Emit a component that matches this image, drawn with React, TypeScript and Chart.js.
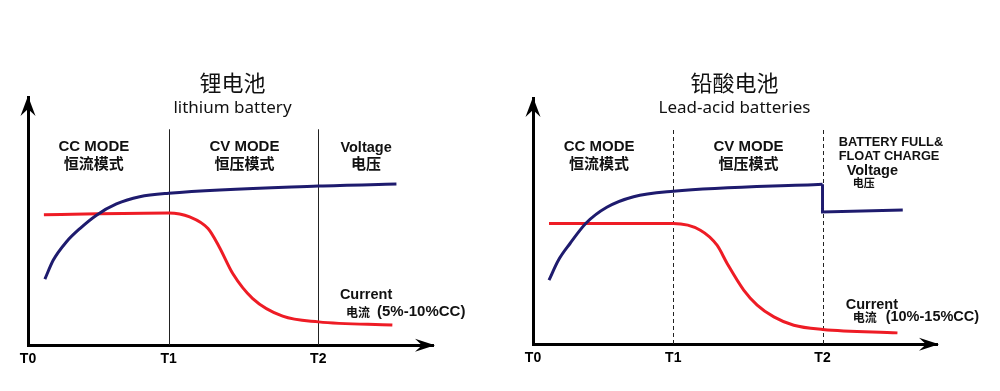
import React, { useEffect, useRef } from "react";
import { Chart, registerables } from "chart.js";

Chart.register(...registerables);

// ---- Data (time in units of T1, value in arbitrary units 0..10) ----
const tickValues = [0, 1, 2.064];
const tickLabels = ["T0", "T1", "T2"];

// Lithium battery
const liVoltageX = [0.12, 0.18, 0.274, 0.369, 0.487, 0.629, 0.794, 1.0, 2.064, 2.62];
const liVoltageY = [2.66, 3.43, 4.17, 4.7, 5.24, 5.69, 5.98, 6.12, 6.41, 6.49];
const liCurrentX = [0.113, 1.0, 1.15, 1.28, 1.36, 1.456, 1.598, 1.811, 2.066, 2.591];
const liCurrentY = [5.26, 5.33, 5.17, 4.7, 3.96, 2.89, 1.88, 1.17, 0.94, 0.81];

// Lead-acid battery
const laVoltageX = [0.114, 0.181, 0.264, 0.379, 0.526, 0.717, 1.0, 2.064];
const laVoltageY = [2.6, 3.41, 4.09, 4.92, 5.56, 5.99, 6.21, 6.5];
const laFloatX = [2.064, 2.064, 2.636];
const laFloatY = [6.5, 5.37, 5.45];
const laCurrentX = [0.114, 1.0, 1.193, 1.312, 1.384, 1.502, 1.598, 1.717, 1.859, 2.066, 2.598];
const laCurrentY = [4.9, 4.9, 4.63, 4.02, 3.28, 2.2, 1.59, 1.11, 0.77, 0.6, 0.46];

const NAVY = "#1e1b6e";
const RED = "#ee1c25";
const BOLD = "bold 15px 'Liberation Sans', Arial, sans-serif";
const CJK_BOLD = "bold 15px 'Noto Sans CJK SC', sans-serif";
const LAB = "bold 14.5px 'Liberation Sans', Arial, sans-serif";

type Note = { text: string; x: number; y: number; font: string; align?: CanvasTextAlign };

const toPts = (xs: number[], ys: number[]) => xs.map((x, i) => ({ x, y: ys[i] }));

const liNotes: Note[] = [
  { text: "锂电池", x: 1.454, y: 10.56, font: "22px 'Noto Sans CJK SC', sans-serif" },
  { text: "lithium battery", x: 1.454, y: 9.56, font: "17px 'Noto Sans', sans-serif" },
  { text: "CC MODE", x: 0.468, y: 7.98, font: BOLD },
  { text: "恒流模式", x: 0.468, y: 7.34, font: CJK_BOLD },
  { text: "CV MODE", x: 1.539, y: 7.98, font: BOLD },
  { text: "恒压模式", x: 1.539, y: 7.34, font: CJK_BOLD },
  { text: "Voltage", x: 2.404, y: 7.94, font: LAB },
  { text: "电压", x: 2.404, y: 7.34, font: CJK_BOLD },
  { text: "Current", x: 2.404, y: 2.02, font: LAB },
  { text: "电流", x: 2.262, y: 1.33, font: "bold 12px 'Noto Sans CJK SC', sans-serif", align: "left" },
  { text: "(5%-10%CC)", x: 2.482, y: 1.33, font: "bold 15px 'Liberation Sans', Arial, sans-serif", align: "left" },
];

const laNotes: Note[] = [
  { text: "铅酸电池", x: 1.436, y: 10.61, font: "22px 'Noto Sans CJK SC', sans-serif" },
  { text: "Lead-acid batteries", x: 1.436, y: 9.59, font: "17px 'Noto Sans', sans-serif" },
  { text: "CC MODE", x: 0.471, y: 8.01, font: BOLD },
  { text: "恒流模式", x: 0.471, y: 7.36, font: CJK_BOLD },
  { text: "CV MODE", x: 1.536, y: 8.01, font: BOLD },
  { text: "恒压模式", x: 1.536, y: 7.36, font: CJK_BOLD },
  { text: "BATTERY FULL&", x: 2.179, y: 8.21, font: "bold 12.8px 'Liberation Sans', Arial, sans-serif", align: "left" },
  { text: "FLOAT CHARGE", x: 2.179, y: 7.64, font: "bold 12.8px 'Liberation Sans', Arial, sans-serif", align: "left" },
  { text: "Voltage", x: 2.236, y: 7.03, font: LAB, align: "left" },
  { text: "电压", x: 2.279, y: 6.54, font: "bold 11px 'Noto Sans CJK SC', sans-serif", align: "left" },
  { text: "Current", x: 2.229, y: 1.59, font: LAB, align: "left" },
  { text: "电流", x: 2.279, y: 1.1, font: "bold 12px 'Noto Sans CJK SC', sans-serif", align: "left" },
  { text: "(10%-15%CC)", x: 2.514, y: 1.1, font: "bold 14.5px 'Liberation Sans', Arial, sans-serif", align: "left" },
];

type PanelProps = {
  left: number;
  padLeft: number;
  padRight: number;
  padTop: number;
  padBottom: number;
  datasets: any[];
  notes: Note[];
  dashed: boolean;
};

function Panel({ left, padLeft, padRight, padTop, padBottom, datasets, notes, dashed }: PanelProps) {
  const ref = useRef<HTMLCanvasElement>(null);
  useEffect(() => {
    if (!ref.current) return;
    const decor = {
      id: "decor",
      beforeDatasetsDraw(chart: any) {
        const { ctx, scales } = chart;
        const xs = scales.x, ys = scales.y;
        ctx.save();
        ctx.strokeStyle = "#222";
        ctx.lineWidth = 1;
        ctx.setLineDash(dashed ? [4, 3] : []);
        [tickValues[1], tickValues[2]].forEach((v) => {
          const px = Math.round(xs.getPixelForValue(v)) + 0.5;
          ctx.beginPath();
          ctx.moveTo(px, ys.getPixelForValue(8.7));
          ctx.lineTo(px, ys.getPixelForValue(0));
          ctx.stroke();
        });
        ctx.restore();
      },
      afterDraw(chart: any) {
        const { ctx, scales } = chart;
        const xs = scales.x, ys = scales.y;
        ctx.save();
        const ox = xs.getPixelForValue(0);
        const oy = ys.getPixelForValue(0);
        const topY = ys.top;
        const rightX = xs.right;
        ctx.fillStyle = "#000";
        ctx.beginPath();
        ctx.moveTo(ox, topY - 1);
        ctx.lineTo(ox + 7.5, topY + 19);
        ctx.lineTo(ox, topY + 12);
        ctx.lineTo(ox - 7.5, topY + 19);
        ctx.closePath();
        ctx.fill();
        ctx.beginPath();
        ctx.moveTo(rightX + 2, oy);
        ctx.lineTo(rightX - 18, oy - 6.5);
        ctx.lineTo(rightX - 11, oy);
        ctx.lineTo(rightX - 18, oy + 6.5);
        ctx.closePath();
        ctx.fill();
        ctx.fillStyle = "#111";
        ctx.textBaseline = "middle";
        notes.forEach((n) => {
          ctx.font = n.font;
          ctx.textAlign = n.align || "center";
          ctx.fillText(n.text, xs.getPixelForValue(n.x), ys.getPixelForValue(n.y));
        });
        ctx.restore();
      },
    };
    const chart = new Chart(ref.current, {
      type: "line",
      data: { datasets },
      plugins: [decor],
      options: {
        animation: false,
        responsive: false,
        maintainAspectRatio: false,
        layout: { padding: { left: padLeft, right: padRight, top: padTop, bottom: padBottom } },
        plugins: { legend: { display: false }, tooltip: { enabled: false }, title: { display: false } },
        elements: { point: { radius: 0 } },
        scales: {
          x: {
            type: "linear",
            min: 0,
            max: 2.88,
            afterBuildTicks: (s: any) => {
              s.ticks = tickValues.map((v) => ({ value: v }));
            },
            ticks: {
              autoSkip: false,
              maxRotation: 0,
              padding: 6,
              color: "#000",
              font: { family: "'Liberation Sans', Arial, sans-serif", size: 14, weight: "bold" },
              callback: (v: any) => {
                const i = tickValues.indexOf(Number(v));
                return i >= 0 ? tickLabels[i] : "";
              },
            },
            grid: { display: false, drawTicks: false },
            border: { display: true, color: "#000", width: 3 },
          },
          y: {
            type: "linear",
            min: 0,
            max: 10,
            ticks: { display: false },
            grid: { display: false, drawTicks: false },
            border: { display: true, color: "#000", width: 3 },
          },
        },
      } as any,
    });
    return () => chart.destroy();
  }, []);
  return (
    <div style={{ position: "absolute", left, top: 0, width: 500, height: 391 }}>
      <canvas ref={ref} width={500} height={391} style={{ width: 500, height: 391 }} />
    </div>
  );
}

const lineStyle = (color: string) => ({
  borderColor: color,
  borderWidth: 3,
  pointRadius: 0,
  fill: false,
  cubicInterpolationMode: "monotone",
});

export default function App() {
  const liSets = [
    { label: "Voltage 电压", data: toPts(liVoltageX, liVoltageY), ...lineStyle(NAVY) },
    { label: "Current 电流", data: toPts(liCurrentX, liCurrentY), ...lineStyle(RED) },
  ];
  const laSets = [
    { label: "Voltage 电压", data: toPts(laVoltageX, laVoltageY), ...lineStyle(NAVY) },
    { label: "Float voltage", data: toPts(laFloatX, laFloatY), ...lineStyle(NAVY), cubicInterpolationMode: "default", tension: 0 },
    { label: "Current 电流", data: toPts(laCurrentX, laCurrentY), ...lineStyle(RED) },
  ];
  return (
    <div style={{ position: "fixed", left: 0, top: 0, width: 1000, height: 391, background: "#fff" }}>
      <Panel left={0} padLeft={28} padRight={67} padTop={97} padBottom={17} datasets={liSets} notes={liNotes} dashed={false} />
      <Panel left={500} padLeft={33} padRight={63} padTop={98} padBottom={18} datasets={laSets} notes={laNotes} dashed={true} />
    </div>
  );
}
